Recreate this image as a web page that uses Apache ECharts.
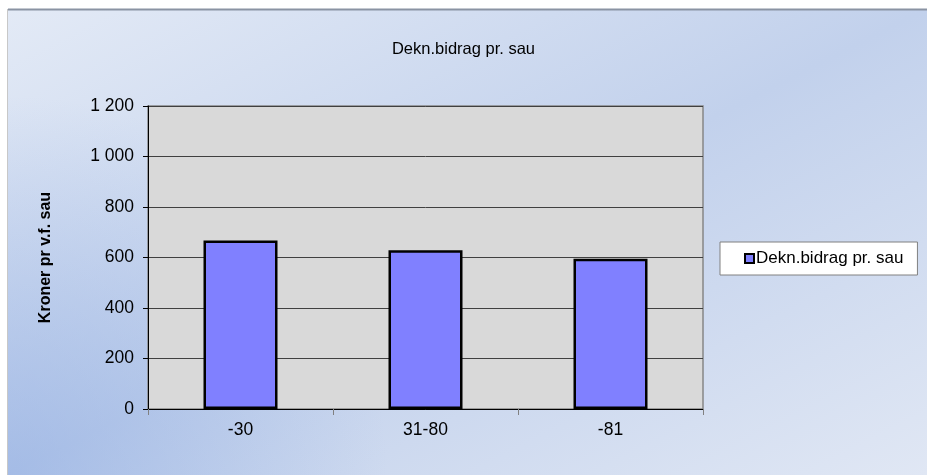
<!DOCTYPE html>
<html>
<head>
<meta charset="utf-8">
<script src="https://cdn.jsdelivr.net/npm/echarts@6/dist/echarts.min.js"></script>
<style>
html,body{margin:0;padding:0;background:#ffffff;}
#chart{width:927px;height:475px;}
</style>
</head>
<body>
<div id="chart"></div>
<script>
var chartTitle = 'Dekn.bidrag pr. sau';
var seriesName = 'Dekn.bidrag pr. sau';
var yAxisName = 'Kroner pr v.f. sau';
var categories = ['-30', '31-80', '-81'];
var values = [667, 629, 595];
var yTickValues = [0, 200, 400, 600, 800, 1000, 1200];
var yTickLabels = ['0', '200', '400', '600', '800', '1 000', '1 200'];

var FONT = '"Liberation Sans", Arial, sans-serif';
var chart = echarts.init(document.getElementById('chart'), null, {renderer: 'canvas'});

var W = 919, H = 466, L2 = W * W + H * H;
var gx = 2 * W * H * H / L2, gy = 2 * W * W * H / L2;
var baseGrad = new echarts.graphic.LinearGradient(8, 9, 8 + gx, 9 + gy, [
  {offset: 0, color: '#e3eaf6'},
  {offset: 0.5, color: '#c2d1ec'},
  {offset: 1, color: '#e0e7f4'}
], true);
var cornerGrad = new echarts.graphic.RadialGradient(8, 475, 380, [
  {offset: 0, color: 'rgba(140,170,225,0.55)'},
  {offset: 1, color: 'rgba(140,170,225,0)'}
], true);

var option = {
  backgroundColor: '#ffffff',
  animation: false,
  graphic: [
    {
      type: 'rect', z: -10, silent: true,
      shape: {x: 8, y: 9, width: 925, height: 470},
      style: {fill: baseGrad, stroke: null}
    },
    {
      type: 'rect', z: -9, silent: true,
      shape: {x: 8, y: 9, width: 925, height: 470},
      style: {fill: cornerGrad, stroke: null}
    },
    {
      type: 'line', z: -8, silent: true,
      shape: {x1: 8, y1: 9.5, x2: 927, y2: 9.5},
      style: {stroke: '#8a93a3', lineWidth: 2}
    },
    {
      type: 'line', z: -8, silent: true,
      shape: {x1: 7.5, y1: 9, x2: 7.5, y2: 475},
      style: {stroke: '#c8c8c8', lineWidth: 1}
    }
  ],
  title: {
    text: chartTitle,
    left: 'center',
    top: 36,
    textStyle: {fontFamily: FONT, fontSize: 16.5, fontWeight: 'normal', color: '#000000'}
  },
  legend: {
    left: 720,
    top: 242,
    orient: 'vertical',
    backgroundColor: '#ffffff',
    borderColor: '#808080',
    borderWidth: 1,
    borderRadius: 0,
    padding: [8, 14, 8, 24],
    icon: 'rect',
    itemWidth: 9,
    itemHeight: 9,
    itemGap: 0,
    itemStyle: {borderColor: '#000000', borderWidth: 2},
    textStyle: {fontFamily: FONT, fontSize: 17, color: '#000000', padding: [0, 0, 0, -3]},
    data: [{name: seriesName, itemStyle: {color: '#8080ff', borderColor: '#000000', borderWidth: 2}}]
  },
  grid: {
    left: 148, right: 224, top: 106, bottom: 66,
    show: true,
    backgroundColor: '#d9d9d9',
    borderColor: '#868686',
    borderWidth: 1.5,
    containLabel: false
  },
  xAxis: {
    type: 'category',
    data: categories,
    boundaryGap: true,
    axisLine: {lineStyle: {color: '#000000', width: 1}},
    axisTick: {show: true, length: 6, lineStyle: {color: '#808080'}},
    axisLabel: {fontFamily: FONT, fontSize: 17.5, color: '#000000', margin: 12}
  },
  yAxis: {
    type: 'value',
    min: 0, max: 1200, interval: 200,
    name: yAxisName,
    nameLocation: 'middle',
    nameGap: 94,
    nameTextStyle: {fontFamily: FONT, fontSize: 16, fontWeight: 'bold', color: '#000000'},
    axisLine: {show: true, lineStyle: {color: '#000000', width: 1}},
    axisTick: {show: true, length: 5, lineStyle: {color: '#000000'}},
    axisLabel: {
      fontFamily: FONT, fontSize: 17.5, color: '#000000', margin: 14,
      formatter: function (v) {
        var i = yTickValues.indexOf(v);
        return i >= 0 ? yTickLabels[i] : '';
      }
    },
    splitLine: {show: true, lineStyle: {color: '#404040', width: 1}}
  },
  series: [{
    name: seriesName,
    type: 'bar',
    data: values,
    barWidth: '40%',
    itemStyle: {color: '#8080ff', borderColor: '#000000', borderWidth: 2.5}
  }]
};
chart.setOption(option);
</script>
</body>
</html>
